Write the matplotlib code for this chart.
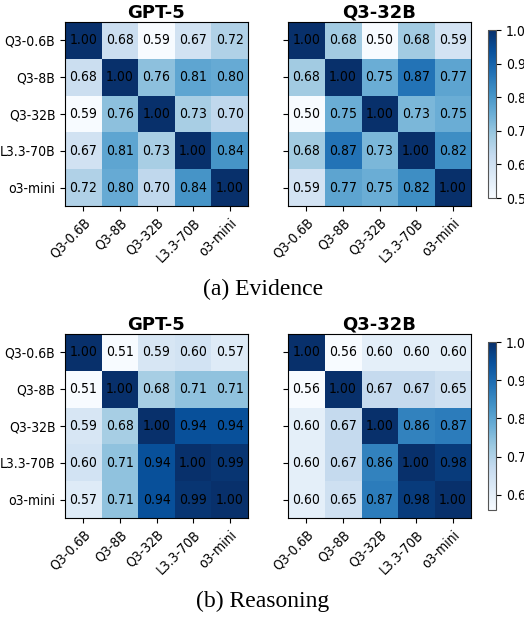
import numpy as np
import matplotlib.pyplot as plt
from matplotlib import font_manager

models = ["Q3-0.6B", "Q3-8B", "Q3-32B", "L3.3-70B", "o3-mini"]

# (a) Evidence
ev_gpt5 = [[1.00, 0.68, 0.59, 0.67, 0.72],
           [0.68, 1.00, 0.76, 0.81, 0.80],
           [0.59, 0.76, 1.00, 0.73, 0.70],
           [0.67, 0.81, 0.73, 1.00, 0.84],
           [0.72, 0.80, 0.70, 0.84, 1.00]]
ev_q32 = [[1.00, 0.68, 0.50, 0.68, 0.59],
          [0.68, 1.00, 0.75, 0.87, 0.77],
          [0.50, 0.75, 1.00, 0.73, 0.75],
          [0.68, 0.87, 0.73, 1.00, 0.82],
          [0.59, 0.77, 0.75, 0.82, 1.00]]

# (b) Reasoning
re_gpt5 = [[1.00, 0.51, 0.59, 0.60, 0.57],
           [0.51, 1.00, 0.68, 0.71, 0.71],
           [0.59, 0.68, 1.00, 0.94, 0.94],
           [0.60, 0.71, 0.94, 1.00, 0.99],
           [0.57, 0.71, 0.94, 0.99, 1.00]]
re_q32 = [[1.00, 0.56, 0.60, 0.60, 0.60],
          [0.56, 1.00, 0.67, 0.67, 0.65],
          [0.60, 0.67, 1.00, 0.86, 0.87],
          [0.60, 0.67, 0.86, 1.00, 0.98],
          [0.60, 0.65, 0.87, 0.98, 1.00]]

titles = ["GPT-5", "Q3-32B"]
captions = ["(a) Evidence", "(b) Reasoning"]

# condensed DejaVu if it is there, plain DejaVu otherwise
cond = [f for f in font_manager.findSystemFonts() if "DejaVuSansCondensed.ttf" in f]
if cond:
    font_manager.fontManager.addfont(cond[0])
    small = font_manager.FontProperties(fname=cond[0], size=10)
else:
    small = font_manager.FontProperties(family="DejaVu Sans", size=9)

W, H = 524, 619
fig = plt.figure(figsize=(W / 100, H / 100), dpi=100)


def box(x0, y0, x1, y1):
    # pixel box -> figure fraction
    return [x0 / W, 1 - y1 / H, (x1 - x0) / W, (y1 - y0) / H]


def heat(ax, data, title, show_y):
    data = np.array(data)
    im = ax.imshow(data, cmap="Blues", aspect="auto")
    for i in range(data.shape[0]):
        for j in range(data.shape[1]):
            ax.text(j, i, f"{data[i, j]:.2f}", ha="center", va="center",
                    color="black", fontproperties=small)
    ax.set_xticks(range(len(models)))
    ax.set_xticklabels(models, rotation=45, ha="right", rotation_mode="anchor",
                       fontproperties=small)
    ax.set_yticks(range(len(models)))
    if show_y:
        ax.set_yticklabels(models, fontproperties=small)
    else:
        ax.set_yticklabels([])
    ax.set_title(title, fontsize=13, fontweight="bold", pad=3)
    return im


rows = [(ev_gpt5, ev_q32, 22), (re_gpt5, re_q32, 334)]
for r, (m1, m2, top) in enumerate(rows):
    ax1 = fig.add_axes(box(65, top, 248, top + 184))
    ax2 = fig.add_axes(box(288, top, 471, top + 184))
    heat(ax1, m1, titles[0], True)
    im = heat(ax2, m2, titles[1], False)
    cax = fig.add_axes(box(488, top + 8, 496, top + 176))
    cb = fig.colorbar(im, cax=cax)
    for lab in cb.ax.get_yticklabels():
        lab.set_fontproperties(small)
    cb.outline.set_edgecolor("#555555")
    fig.text(0.502, 1 - (top + 267) / H, captions[r], ha="center", va="center",
             family="Liberation Serif", fontsize=17)

fig.savefig("out.png", dpi=100)
